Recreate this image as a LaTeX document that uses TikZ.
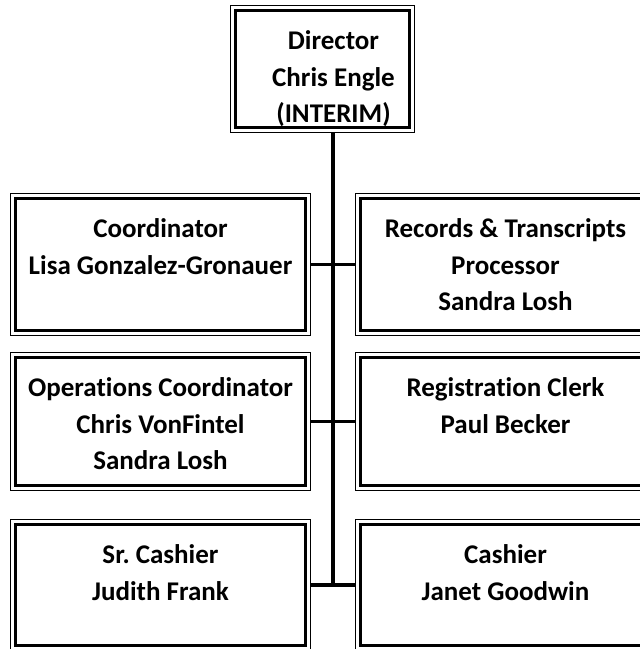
\documentclass[tikz,border=0pt]{standalone}
\usepackage{fontspec}
\setmainfont[Ligatures=NoCommon]{Carlito}
\usetikzlibrary{positioning,calc}
\definecolor{ink}{HTML}{000000}
\frenchspacing
% #1 height, #2 width, #3 extra left indent, #4 lines
\newcommand{\roletext}[4]{\parbox[c][#1][t]{#2}{\centering\advance\leftskip by #3\bfseries\fontsize{27}{36.5}\selectfont\rule{0pt}{44pt}#4}}
\tikzset{
  rolebox/.style={draw=ink, line width=1pt, inner sep=0pt, anchor=north west,
    append after command={
      \pgfextra{\draw[ink, line width=3.5pt]
        ([shift={(5.5pt,-5.5pt)}]\tikzlastnode.north west) rectangle
        ([shift={(-5.5pt,5.5pt)}]\tikzlastnode.south east);}}},
  link/.style={draw=ink, line width=3.5pt}
}
\begin{document}
\begin{tikzpicture}[x=1pt, y=-1pt]
  \useasboundingbox (0,0) rectangle (640,649);
  \clip (0,0) rectangle (640,649);
  % director
  \node[rolebox] (dir) at (230,5) {\roletext{127pt}{184pt}{22pt}{Director\\Chris Engle\\(INTERIM)}};
  % left column
  \node[rolebox] (coord) at (10,193) {\roletext{142pt}{300pt}{0pt}{Coordinator\\Lisa Gonzalez-Gronauer}};
  \node[rolebox] (ops) at (10,352) {\roletext{138pt}{300pt}{0pt}{Operations Coordinator\\Chris VonFintel\\Sandra Losh}};
  \node[rolebox] (srcash) at (10,519) {\roletext{131pt}{300pt}{0pt}{Sr. Cashier\\Judith Frank}};
  % right column
  \node[rolebox] (rec) at (355,193) {\roletext{142pt}{300pt}{0pt}{Records \& Transcripts\\Processor\\Sandra Losh}};
  \node[rolebox] (reg) at (355,352) {\roletext{138pt}{300pt}{0pt}{Registration Clerk\\Paul Becker}};
  \node[rolebox] (cash) at (355,519) {\roletext{131pt}{300pt}{0pt}{Cashier\\Janet Goodwin}};
  % connectors
  \coordinate (trunk) at ($(coord.east)!0.5!(rec.west)$);
  \draw[link] (dir.south -| trunk) -- (trunk |- cash.west);
  \draw[link] (coord.east) -- (rec.west);
  \draw[link] (ops.east) -- (reg.west);
  \draw[link] (srcash.east) -- (cash.west);
\end{tikzpicture}
\end{document}
